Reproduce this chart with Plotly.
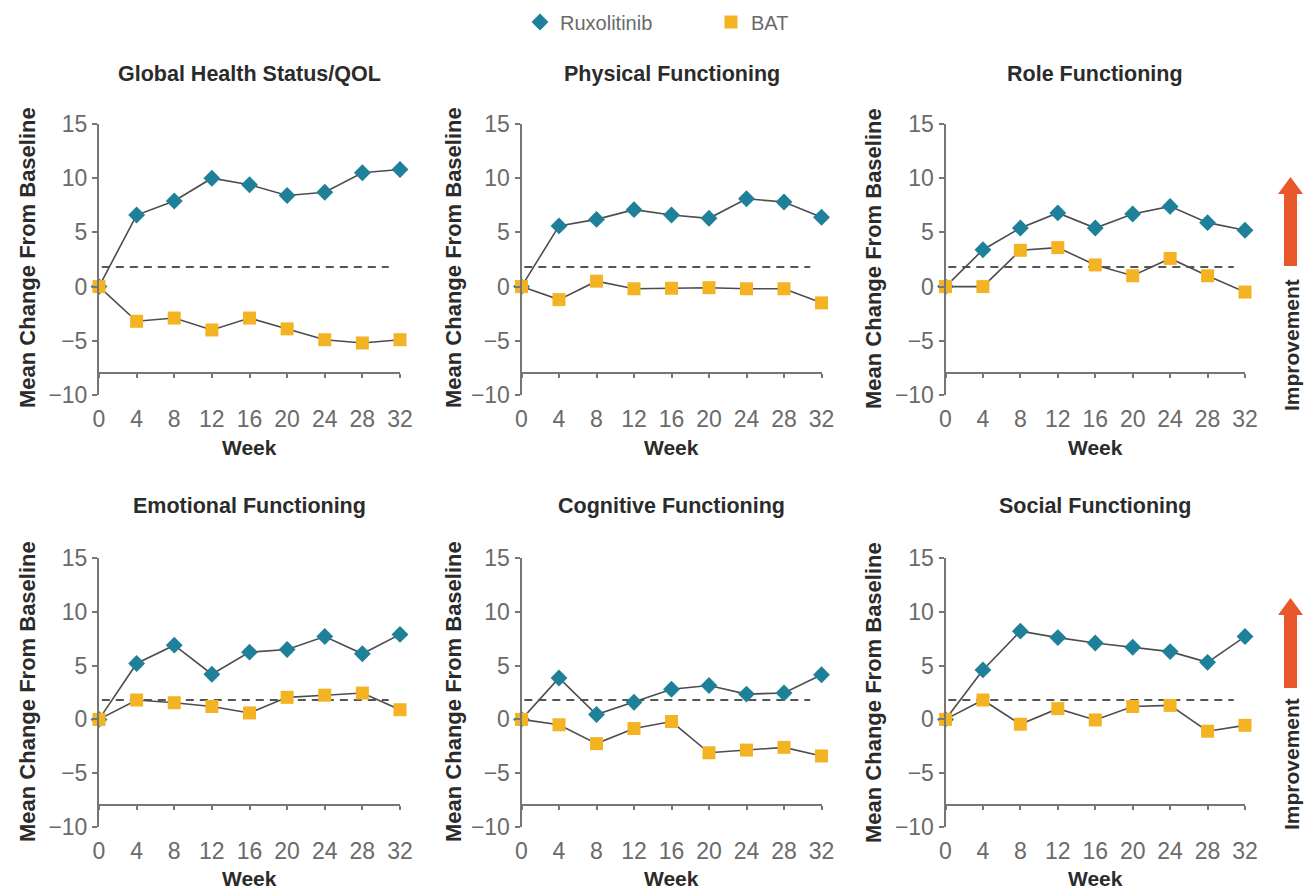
import plotly.graph_objects as go

W, H = 1306, 894

weeks = [0, 4, 8, 12, 16, 20, 24, 28, 32]
panel_titles = ["Global Health Status/QOL", "Physical Functioning", "Role Functioning",
                "Emotional Functioning", "Cognitive Functioning", "Social Functioning"]

rux_global = [0, 6.6, 7.9, 10.0, 9.4, 8.4, 8.7, 10.5, 10.8]
bat_global = [0, -3.2, -2.9, -4.0, -2.9, -3.9, -4.9, -5.2, -4.9]
rux_physical = [0, 5.6, 6.2, 7.1, 6.6, 6.3, 8.1, 7.8, 6.4]
bat_physical = [0, -1.2, 0.5, -0.2, -0.15, -0.1, -0.2, -0.2, -1.5]
rux_role = [0, 3.4, 5.4, 6.8, 5.4, 6.7, 7.4, 5.9, 5.2]
bat_role = [0, 0, 3.35, 3.6, 2.0, 1.0, 2.6, 1.0, -0.5]
rux_emotional = [0, 5.2, 6.9, 4.2, 6.25, 6.5, 7.7, 6.1, 7.9]
bat_emotional = [0, 1.8, 1.55, 1.2, 0.6, 2.05, 2.25, 2.45, 0.9]
rux_cognitive = [0, 3.85, 0.45, 1.6, 2.8, 3.15, 2.35, 2.45, 4.15]
bat_cognitive = [0, -0.5, -2.25, -0.85, -0.2, -3.1, -2.85, -2.6, -3.4]
rux_social = [0, 4.6, 8.2, 7.6, 7.1, 6.7, 6.3, 5.3, 7.7]
bat_social = [0, 1.8, -0.45, 1.0, -0.05, 1.2, 1.3, -1.1, -0.55]

rux_series = [rux_global, rux_physical, rux_role, rux_emotional, rux_cognitive, rux_social]
bat_series = [bat_global, bat_physical, bat_role, bat_emotional, bat_cognitive, bat_social]

y_ticks = [-10, -5, 0, 5, 10, 15]
y_range = [-10, 15]
x_axis_level = -8        # value where the week axis line crosses
ref_level = 1.8          # dashed reference line
ref_span = [0.3, 30.8]

RUX_C = "#1e8099"
BAT_C = "#f3b323"
LINE_C = "#4d4d4d"
AXIS_C = "#767676"
TEXT_C = "#2b2b2b"
TICK_C = "#6a6a6a"
ARROW_C = "#e8582a"
FONT = "Liberation Sans, Arial, sans-serif"

# panel geometry in pixels (x of week 0, x of week 32, y of 15, y of -10)
cols_px = [(99, 400), (521.5, 821.5), (945.5, 1245)]
rows_px = [(124, 395), (558, 827)]

def px(x):
    return x / W

def py(y):
    return 1 - y / H

fig = go.Figure()
layout = dict(width=W, height=H, margin=dict(l=0, r=0, t=0, b=0, autoexpand=False),
              paper_bgcolor="white", plot_bgcolor="white", template="none",
              font=dict(family=FONT, color=TEXT_C))
annotations = []
shapes = []

for i in range(6):
    r, c = divmod(i, 3)
    n = i + 1
    xa = f"x{n}" if n > 1 else "x"
    ya = f"y{n}" if n > 1 else "y"
    x0, x1 = cols_px[c]
    ytop, ybot = rows_px[r]
    dom_y = [py(ybot), py(ytop)]
    axis_pos = dom_y[0] + (x_axis_level - y_range[0]) / (y_range[1] - y_range[0]) * (dom_y[1] - dom_y[0])
    layout[f"xaxis{n}"] = dict(domain=[px(x0), px(x1)], range=[0, 32], anchor="free", position=axis_pos,
                               tickvals=weeks, ticks="outside", ticklen=4, tickwidth=1.5, tickcolor=AXIS_C,
                               showline=True, linecolor=AXIS_C, linewidth=2, showgrid=False, zeroline=False,
                               ticklabelstandoff=21, automargin=False,
                               tickfont=dict(family=FONT, size=23, color=TICK_C))
    layout[f"yaxis{n}"] = dict(domain=dom_y, range=y_range, anchor=xa, tickvals=y_ticks,
                               ticks="outside", ticklen=5, tickwidth=1.5, tickcolor=AXIS_C,
                               showline=True, linecolor=AXIS_C, linewidth=2, showgrid=False, zeroline=False,
                               automargin=False,
                               tickfont=dict(family=FONT, size=23, color=TICK_C))

    # dashed reference line
    fig.add_trace(go.Scatter(x=ref_span, y=[ref_level, ref_level], mode="lines", xaxis=xa, yaxis=ya,
                             line=dict(color="#555555", width=2, dash="8px,6px"),
                             showlegend=False, hoverinfo="skip", cliponaxis=False))
    # connecting lines
    for ys in (rux_series[i], bat_series[i]):
        fig.add_trace(go.Scatter(x=weeks, y=ys, mode="lines", xaxis=xa, yaxis=ya,
                                 line=dict(color=LINE_C, width=1.6), showlegend=False,
                                 hoverinfo="skip", cliponaxis=False))
    fig.add_trace(go.Scatter(x=weeks, y=rux_series[i], mode="markers", xaxis=xa, yaxis=ya,
                             marker=dict(symbol="diamond", size=13, color=RUX_C),
                             name="Ruxolitinib", legend="legend", showlegend=(i == 0), cliponaxis=False))
    fig.add_trace(go.Scatter(x=weeks, y=bat_series[i], mode="markers", xaxis=xa, yaxis=ya,
                             marker=dict(symbol="square", size=13, color=BAT_C),
                             name="BAT", legend="legend2", showlegend=(i == 0), cliponaxis=False))

    cx = (x0 + x1) / 2
    title_y = 74 if r == 0 else 506
    annotations.append(dict(text=f"<b>{panel_titles[i]}</b>", x=px(cx), y=py(title_y), xref="paper", yref="paper",
                            showarrow=False, xanchor="center", yanchor="middle",
                            font=dict(family=FONT, size=21.5, color=TEXT_C)))
    week_y = 447 if r == 0 else 878
    annotations.append(dict(text="<b>Week</b>", x=px(cx), y=py(week_y), xref="paper", yref="paper",
                            showarrow=False, xanchor="center", yanchor="middle",
                            font=dict(family=FONT, size=21, color=TEXT_C)))
    ytitle_x = [27, 453, 873][c]
    ytitle_y = 258 if r == 0 else 692
    annotations.append(dict(text="<b>Mean Change From Baseline</b>", x=px(ytitle_x), y=py(ytitle_y),
                            xref="paper", yref="paper", showarrow=False, textangle=-90,
                            xanchor="center", yanchor="middle",
                            font=dict(family=FONT, size=22, color=TEXT_C)))

# improvement arrows
for top, head_base, bottom, text_c in [(177, 194, 266, 345), (598, 615, 688, 764)]:
    xc = 1290.5
    path = (f"M {px(xc-6.5)} {py(bottom)} L {px(xc-6.5)} {py(head_base)} L {px(xc-12.5)} {py(head_base)} "
            f"L {px(xc)} {py(top)} L {px(xc+12.5)} {py(head_base)} L {px(xc+6.5)} {py(head_base)} "
            f"L {px(xc+6.5)} {py(bottom)} Z")
    shapes.append(dict(type="path", path=path, xref="paper", yref="paper",
                       fillcolor=ARROW_C, line=dict(width=0)))
    annotations.append(dict(text="<b>Improvement</b>", x=px(1291), y=py(text_c), xref="paper", yref="paper",
                            showarrow=False, textangle=-90, xanchor="center", yanchor="middle",
                            font=dict(family=FONT, size=21, color=TEXT_C)))

layout["annotations"] = annotations
layout["shapes"] = shapes
layout["legend"] = dict(x=px(520), y=py(22), xanchor="left", yanchor="middle", orientation="h",
                        bgcolor="rgba(0,0,0,0)", font=dict(family=FONT, size=20, color="#6a6a6a"))
layout["legend2"] = dict(x=px(711), y=py(22), xanchor="left", yanchor="middle", orientation="h",
                         bgcolor="rgba(0,0,0,0)", font=dict(family=FONT, size=20, color="#6a6a6a"))
layout["hovermode"] = False
fig.update_layout(**layout)

fig.write_html("out.html")
